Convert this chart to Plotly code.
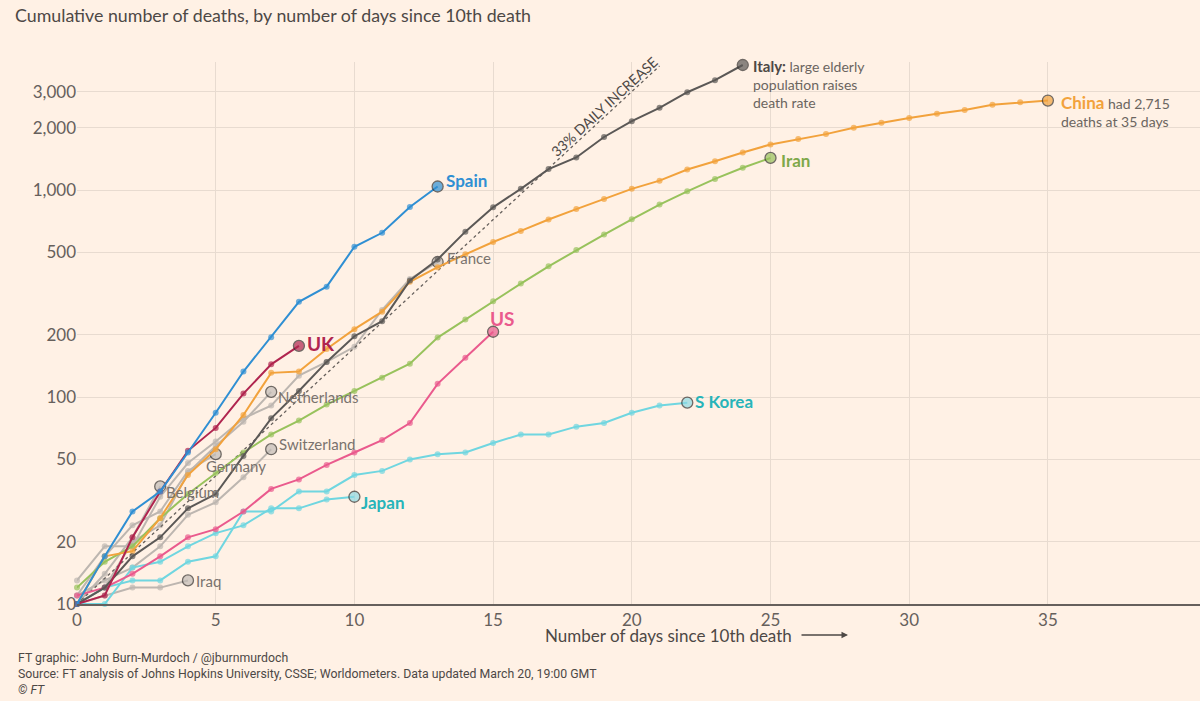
import numpy as np
import plotly.graph_objects as go

# deaths by day since 10th death (day 0 = first value)
spain = [10, 17, 28, 35, 54, 84, 133, 195, 289, 342, 533, 623, 830, 1043]
uk = [10, 11, 21, 35, 55, 71, 104, 144, 177]
italy = [10, 12, 17, 21, 29, 34, 52, 79, 107, 148, 197, 233, 366, 463, 631,
         827, 1016, 1266, 1441, 1809, 2158, 2503, 2978, 3405, 4032]
china = [10, 17, 18, 26, 42, 56, 82, 131, 133, 171, 213, 259, 361, 425, 490,
         562, 636, 722, 811, 908, 1016, 1113, 1259, 1380, 1523, 1665, 1770,
         1868, 2004, 2118, 2236, 2345, 2442, 2592, 2663, 2715]
iran = [12, 16, 19, 26, 34, 43, 54, 66, 77, 92, 107, 124, 145, 194, 237, 291,
        354, 429, 514, 611, 724, 853, 988, 1135, 1284, 1433]
us = [11, 12, 14, 17, 21, 23, 28, 36, 40, 47, 54, 62, 75, 116, 155, 207]
s_korea = [10, 12, 13, 13, 16, 17, 28, 28, 35, 35, 42, 44, 50, 53, 54, 60, 66,
           66, 72, 75, 84, 91, 94]
japan = [10, 10, 15, 16, 19, 22, 24, 29, 29, 32, 33]
france = [13, 19, 19, 33, 48, 61, 79, 91, 127, 148, 175, 264, 372, 450]
netherlands = [10, 12, 20, 24, 43, 58, 76, 106]
germany = [11, 17, 24, 28, 44, 53]
switzerland = [11, 13, 15, 19, 27, 31, 41, 56]
belgium = [10, 14, 21, 37]
iraq = [10, 11, 12, 12, 13]

daily_rate = 0.33
ref_days = [0, 21]

y_ticks = [10, 20, 50, 100, 200, 500, 1000, 2000, 3000]
y_ticktext = ["10", "20", "50", "100", "200", "500", "1,000", "2,000", "3,000"]
x_ticks = [0, 5, 10, 15, 20, 25, 30, 35]

BG = "#fff1e5"
INK = "#33302e"
GREY_LINE = "#bdb6b0"
GREY_TXT = "#7a736e"
FONT = "Lato"

fig = go.Figure()


def add_country(vals, color, end_fill=None):
    n = len(vals)
    fig.add_trace(go.Scatter(
        x=list(range(n)), y=vals, mode="lines+markers",
        line=dict(color=color, width=2),
        marker=dict(size=[6] * (n - 1) + [11],
                    color=[color] * (n - 1) + [end_fill or color],
                    line=dict(color=[color] * (n - 1) + [INK],
                              width=[0] * (n - 1) + [1.3])),
        cliponaxis=False, hoverinfo="skip", showlegend=False))


for vals in [iraq, belgium, germany, switzerland, netherlands, france]:
    add_country(vals, GREY_LINE, "#c2bcb7")

# 33% daily increase reference
fig.add_trace(go.Scatter(
    x=ref_days, y=[10 * (1 + daily_rate) ** d for d in ref_days],
    mode="lines", line=dict(color="#66605c", width=1.3, dash="dot"),
    hoverinfo="skip", showlegend=False))

add_country(japan, "#70d6e0", "#8fd9e3")
add_country(s_korea, "#70d6e0", "#8fd9e3")
add_country(us, "#ea5a8d")
add_country(iran, "#98c25c")
add_country(china, "#f2a23c")
add_country(italy, "#5b5856")
add_country(uk, "#b0254f")
add_country(spain, "#2f8fd3")


def label(text, vals, color, size=17, xshift=7, yshift=0, anchor="left",
          yanchor="middle", bold=True):
    if bold:
        text = "<b>" + text + "</b>"
    fig.add_annotation(x=len(vals) - 1, y=np.log10(vals[-1]), text=text,
                       showarrow=False, xanchor=anchor, yanchor=yanchor,
                       xshift=xshift, yshift=yshift, align="left",
                       font=dict(family=FONT, size=size, color=color))


label("Spain", spain, "#2f8fd3", xshift=6, yshift=6)
label("UK", uk, "#b0254f", size=19, xshift=6, yshift=2)
label("US", us, "#ea5a8d", size=19, xshift=-5, yshift=13)
label("S Korea", s_korea, "#27b4b9", xshift=6, yshift=1)
label("Japan", japan, "#27b4b9", xshift=5, yshift=-6)
label("Iran", iran, "#7ea84a", xshift=8, yshift=-3)
label("<b><span style='color:#4d4845;font-size:15px'>Italy:</span></b>"
      " large elderly<br>population raises<br>death rate", italy,
      "#6b6560", size=14, xshift=8, yshift=10, yanchor="top", bold=False)
label("<b><span style='color:#f2a23c;font-size:17px'>China</span></b> had 2,715"
      "<br>deaths at 35 days", china, "#6b6560", size=14, xshift=11,
      yshift=11, yanchor="top", bold=False)
label("France", france, GREY_TXT, size=15, xshift=7, yshift=4, bold=False)
label("Netherlands", netherlands, GREY_TXT, size=15, xshift=5, yshift=-5,
      bold=False)
label("Switzerland", switzerland, GREY_TXT, size=15, xshift=6, yshift=5,
      bold=False)
label("Germany", germany, GREY_TXT, size=15, xshift=-12, yshift=-12,
      bold=False)
label("Belgium", belgium, GREY_TXT, size=15, xshift=4, yshift=-6, bold=False)
label("Iraq", iraq, GREY_TXT, size=15, xshift=6, yshift=-1, bold=False)

ref_label_day = 19.18
fig.add_annotation(x=ref_label_day,
                   y=np.log10(10 * (1 + daily_rate) ** ref_label_day),
                   text="33% DAILY INCREASE", showarrow=False, textangle=-42.7,
                   xshift=-5, yshift=6,
                   font=dict(family=FONT, size=14, color="#4d4845"))

# x-axis title with arrow
fig.add_annotation(x=(848 - 77) / 1123, y=0, xref="paper", yref="paper",
                   text="", showarrow=True, ax=-48, ay=0, arrowhead=2,
                   arrowsize=1, arrowwidth=1.3, arrowcolor="#4d4845",
                   yshift=-31)
fig.add_annotation(x=(794 - 77) / 1123, y=0, xref="paper", yref="paper",
                   text="Number of days since 10th death", showarrow=False,
                   xanchor="right", yanchor="middle", yshift=-31,
                   font=dict(family=FONT, size=17, color="#4d4845"))

footer = ("FT graphic: John Burn-Murdoch / @jburnmurdoch<br>"
          "Source: FT analysis of Johns Hopkins University, CSSE; Worldometers."
          " Data updated March 20, 19:00 GMT<br><i>© FT</i>")
fig.add_annotation(x=-61 / 1123, y=0, xref="paper", yref="paper", text=footer,
                   showarrow=False, xanchor="left", yanchor="top", yshift=-45,
                   align="left",
                   font=dict(family="Liberation Sans Narrow, Roboto", size=12.3,
                             color="#4d4845"))

fig.update_layout(
    width=1200, height=701,
    margin=dict(l=77, r=0, t=62, b=97),
    paper_bgcolor=BG, plot_bgcolor=BG,
    font=dict(family=FONT, color="#66605c"),
    title=dict(text="Cumulative number of deaths, by number of days since 10th death",
               x=15 / 1200, xanchor="left", xref="container",
               y=1 - 16 / 701, yanchor="middle", yref="container",
               font=dict(family=FONT, size=17.8, color="#4d4845")),
    xaxis=dict(range=[0, 1123 / 27.74], tickvals=x_ticks, showgrid=True,
               gridcolor="#e8dbd0", gridwidth=1, zeroline=False,
               showline=True, linecolor="#66605c", linewidth=2,
               ticks="", tickfont=dict(size=17, color="#66605c")),
    yaxis=dict(type="log", range=[1, 3.62], tickvals=y_ticks,
               ticktext=y_ticktext, showgrid=True, gridcolor="#e8dbd0",
               gridwidth=1, zeroline=False, showline=False, ticks="",
               tickfont=dict(size=17, color="#66605c")),
)

fig.write_html("out.html", config=dict(displayModeBar=False),
               post_script="document.body.style.margin='0';")
